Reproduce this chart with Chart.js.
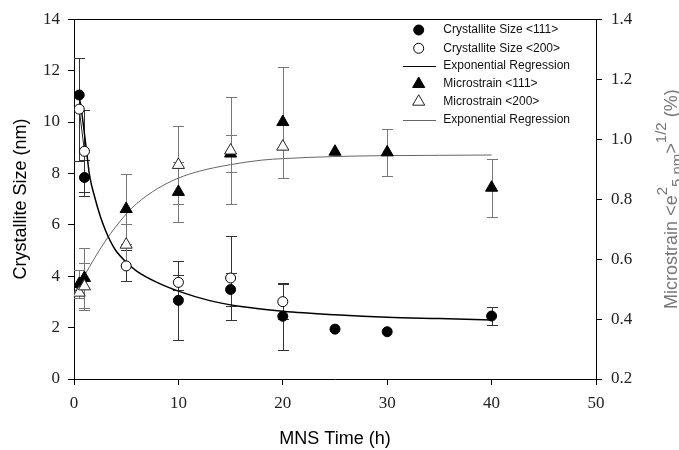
<!DOCTYPE html>
<html><head><meta charset="utf-8">
<script src="https://cdn.jsdelivr.net/npm/chart.js@4.4.0/dist/chart.umd.min.js"></script>
<style>html,body{margin:0;padding:0;background:#fff;}#wrap{width:679px;height:450px;}</style>
</head><body><div id="wrap"><canvas id="c" width="679" height="450"></canvas></div>
<script>
// ---- tick labels ----
const xTicks = [0, 10, 20, 30, 40, 50];
const sizeTicks = [0, 2, 4, 6, 8, 10, 12, 14];
const strainTicks = [0.2, 0.4, 0.6, 0.8, 1.0, 1.2, 1.4];

// ---- Crystallite Size <111> (filled circles) ----
const size111X   = [0.5, 1, 10, 15, 20, 25, 30, 40];
const size111    = [11.05, 7.84, 3.06, 3.48, 2.44, 1.94, 1.84, 2.45];
const size111Err = [0, 0.7, 1.55, 0.63, 1.3, 0, 0, 0.35];

// ---- Crystallite Size <200> (open circles) ----
const size200X   = [0.5, 1, 5, 10, 15, 20];
const size200    = [10.5, 8.86, 4.40, 3.76, 3.93, 3.01];
const size200Err = [2.0, 1.6, 0.6, 0.28, 1.64, 0.67];

// ---- Crystallite regression curve ----
const sizeFitX = [0.5, 0.75, 1, 1.25, 1.5, 2, 2.5, 3, 3.5, 4, 5, 6, 8, 10, 13, 16, 20, 25, 30, 35, 40];
const sizeFit  = [11.0, 10.35, 9.55, 8.7, 7.9, 7.05, 6.35, 5.8, 5.35, 5.0, 4.55, 4.2, 3.75, 3.42, 3.05, 2.82, 2.64, 2.5, 2.4, 2.35, 2.3];

// ---- Microstrain <111> (filled triangles, right axis) ----
const strain111X   = [0.5, 1, 5, 10, 15, 20, 25, 30, 40];
const strain111    = [0.517, 0.537, 0.767, 0.824, 0.952, 1.057, 0.958, 0.956, 0.838];
const strain111Err = [0.047, 0.1, 0.118, 0.1, 0.063, 0.185, 0, 0.078, 0.097];

// ---- Microstrain <200> (open triangles, right axis) ----
const strain200X   = [0.5, 1, 5, 10, 15, 20];
const strain200    = [0.488, 0.509, 0.648, 0.914, 0.962, 0.975];
const strain200Err = [0, 0.078, 0.07, 0.13, 0.177, 0];

// ---- Microstrain regression curve ----
const strainFitX = [0, 1, 2, 3, 4, 5, 6, 8, 10, 12, 15, 18, 20, 25, 30, 35, 40];
const strainFit  = [0.487, 0.545, 0.605, 0.66, 0.708, 0.75, 0.785, 0.835, 0.87, 0.893, 0.915, 0.93, 0.935, 0.942, 0.945, 0.946, 0.947];

const legendLabels = ['Crystallite Size <111>', 'Crystallite Size <200>', 'Exponential Regression',
                      'Microstrain <111>', 'Microstrain <200>', 'Exponential Regression'];

const pts = (xs, ys) => xs.map((x, i) => ({x: x, y: ys[i]}));
const SANS = '"Liberation Sans", Arial, sans-serif';
const SERIF = '"Liberation Serif", "Times New Roman", serif';

const datasets = [
  {label: legendLabels[0], data: pts(size111X, size111), yAxisID: 'y', showLine: false,
   pointStyle: 'circle', pointRadius: 5, backgroundColor: '#000', borderColor: '#000', borderWidth: 1, order: 1,
   err: size111Err, errColor: '#333'},
  {label: legendLabels[1], data: pts(size200X, size200), yAxisID: 'y', showLine: false,
   pointStyle: 'circle', pointRadius: 5, backgroundColor: '#fff', borderColor: '#000', borderWidth: 1, order: 0,
   err: size200Err, errColor: '#333'},
  {label: legendLabels[2], data: pts(sizeFitX, sizeFit), yAxisID: 'y', showLine: true, pointRadius: 0,
   borderColor: '#000', borderWidth: 1.5, cubicInterpolationMode: 'monotone', fill: false, order: 10},
  {label: legendLabels[3], data: pts(strain111X, strain111), yAxisID: 'y2', showLine: false,
   pointStyle: 'triangle', pointRadius: 7, backgroundColor: '#000', borderColor: '#000', borderWidth: 1, order: 3,
   err: strain111Err, errColor: '#777'},
  {label: legendLabels[4], data: pts(strain200X, strain200), yAxisID: 'y2', showLine: false,
   pointStyle: 'triangle', pointRadius: 7, backgroundColor: '#fff', borderColor: '#222', borderWidth: 1, order: 2,
   err: strain200Err, errColor: '#777'},
  {label: legendLabels[5], data: pts(strainFitX, strainFit), yAxisID: 'y2', showLine: true, pointRadius: 0,
   borderColor: '#666', borderWidth: 1, cubicInterpolationMode: 'monotone', fill: false, order: 11},
  {label: '', data: pts(size200X.slice(0, 2), size200.slice(0, 2)), yAxisID: 'y', showLine: true, pointRadius: 0,
   borderColor: '#222', borderWidth: 1, fill: false, order: 12}
];

const tickFont = {family: SERIF, size: 17};
function axis(extra) {
  return Object.assign({
    type: 'linear',
    grid: {drawOnChartArea: false, drawTicks: true, tickLength: 6, color: '#000', lineWidth: 1},
    border: {display: true, color: '#000', width: 1},
    ticks: {font: tickFont, color: '#222', padding: 8}
  }, extra);
}

const decor = {
  id: 'decor',
  beforeDatasetsDraw(chart) {
    const ctx = chart.ctx, xs = chart.scales.x;
    chart.data.datasets.forEach(ds => {
      if (!ds.err) return;
      const ys = chart.scales[ds.yAxisID];
      ctx.save();
      ctx.strokeStyle = ds.errColor; ctx.lineWidth = 1;
      ds.data.forEach((p, i) => {
        const e = ds.err[i]; if (!e) return;
        const px = Math.round(xs.getPixelForValue(p.x)) + 0.5;
        const y1 = Math.round(ys.getPixelForValue(p.y + e)) + 0.5;
        const y2 = Math.round(ys.getPixelForValue(p.y - e)) + 0.5;
        ctx.beginPath();
        ctx.moveTo(px, y1); ctx.lineTo(px, y2);
        ctx.moveTo(px - 5.5, y1); ctx.lineTo(px + 5.5, y1);
        ctx.moveTo(px - 5.5, y2); ctx.lineTo(px + 5.5, y2);
        ctx.stroke();
      });
      ctx.restore();
    });
  },
  afterDraw(chart) {
    const ctx = chart.ctx, ca = chart.chartArea;
    ctx.save();
    // top frame line
    ctx.strokeStyle = '#000'; ctx.lineWidth = 1;
    ctx.beginPath();
    ctx.moveTo(ca.left, Math.round(ca.top) + 0.5); ctx.lineTo(ca.right, Math.round(ca.top) + 0.5);
    ctx.stroke();

    // legend
    const rowY = [30, 48.3, 66, 84, 101.7, 120];
    const symX = 418.7, textX = 443.3;
    ctx.font = '12px ' + SANS; ctx.textBaseline = 'middle'; ctx.textAlign = 'left';
    for (let i = 0; i < 6; i++) {
      const ds = chart.data.datasets[i];
      const y = rowY[i];
      if (ds.showLine) {
        ctx.strokeStyle = ds.borderColor; ctx.lineWidth = ds.borderWidth > 1 ? 1.2 : 1;
        ctx.beginPath(); ctx.moveTo(403, Math.round(y) + 0.5); ctx.lineTo(436, Math.round(y) + 0.5); ctx.stroke();
      } else {
        ctx.fillStyle = ds.backgroundColor; ctx.strokeStyle = ds.borderColor; ctx.lineWidth = ds.borderWidth;
        Chart.helpers.drawPoint(ctx, {pointStyle: ds.pointStyle, radius: ds.pointRadius, rotation: 0, borderWidth: ds.borderWidth}, symX, y);
      }
      ctx.fillStyle = '#111';
      ctx.fillText(ds.label, textX, y);
    }

    // x title
    ctx.fillStyle = '#000';
    ctx.font = '18px ' + SANS; ctx.textAlign = 'center'; ctx.textBaseline = 'alphabetic';
    ctx.fillText('MNS Time (h)', (ca.left + ca.right) / 2, 443.5);

    // left title
    const cy = (ca.top + ca.bottom) / 2;
    ctx.save();
    ctx.translate(26, cy); ctx.rotate(-Math.PI / 2);
    ctx.fillText('Crystallite Size (nm)', 0, 0);
    ctx.restore();

    // right title with super/subscripts
    const parts = [
      {t: 'Microstrain <e', s: 18, d: 0},
      {t: '2', s: 15, d: -10},
      {t: '5 nm', s: 15, d: 5},
      {t: '>', s: 18, d: 0},
      {t: '1/2', s: 15, d: -11},
      {t: ' (%)', s: 18, d: 0}
    ];
    let total = 0;
    parts.forEach(p => { ctx.font = p.s + 'px ' + SANS; p.w = ctx.measureText(p.t).width; total += p.w; });
    ctx.save();
    ctx.translate(677, cy); ctx.rotate(-Math.PI / 2);
    ctx.fillStyle = '#777'; ctx.textAlign = 'left';
    let x = -total / 2;
    parts.forEach(p => { ctx.font = p.s + 'px ' + SANS; ctx.fillText(p.t, x, p.d); x += p.w; });
    ctx.restore();

    ctx.restore();
  }
};

new Chart(document.getElementById('c'), {
  type: 'scatter',
  data: {datasets: datasets},
  options: {
    responsive: false, animation: false, devicePixelRatio: 1,
    layout: {padding: {top: 14, left: 0, right: 0, bottom: 0}},
    plugins: {legend: {display: false}, tooltip: {enabled: false}},
    scales: {
      x: axis({position: 'bottom', min: 0, max: 50,
        afterBuildTicks: s => { s.ticks = xTicks.map(v => ({value: v})); },
        afterFit: s => { s.height = 71; }}),
      y: axis({position: 'left', min: 0, max: 14,
        afterBuildTicks: s => { s.ticks = sizeTicks.map(v => ({value: v})); },
        afterFit: s => { s.width = 74; }}),
      y2: axis({position: 'right', min: 0.2, max: 1.4,
        ticks: {font: tickFont, color: '#222', padding: 9, callback: v => Number(v).toFixed(1)},
        afterBuildTicks: s => { s.ticks = strainTicks.map(v => ({value: v})); },
        afterFit: s => { s.width = 83; }})
    }
  },
  plugins: [decor]
});
</script>
</body></html>
